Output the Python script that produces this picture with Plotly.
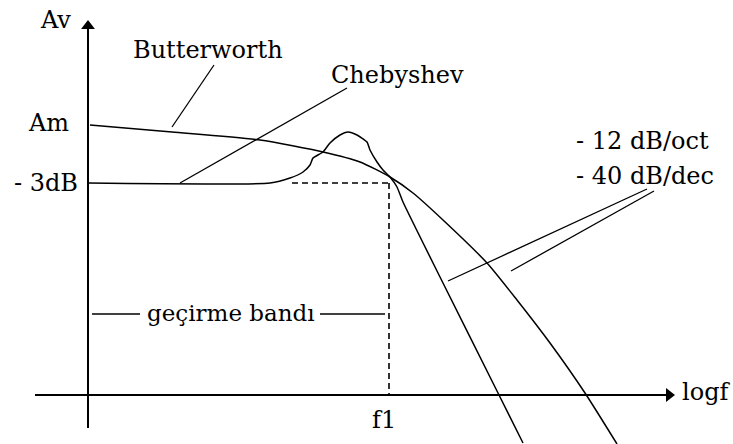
import plotly.graph_objects as go

# ---- data (x: log f units from the Av axis, y: gain units above the log f axis) ----
cheb_x = [0, 182, 202, 215, 222, 225, 235, 242, 252, 260, 269, 279, 282, 289, 295, 302, 309, 315, 352, 410, 435]
cheb_y = [212, 212, 217, 223, 230, 237, 243, 252, 260, 263, 260, 253, 245, 233, 225, 218, 208, 193, 118, 2, -48]

butter_x = [2, 84, 172, 235, 272, 302, 325, 355, 399, 429, 462, 497, 529]
butter_y = [270, 263, 255, 243, 233, 218, 202, 175, 132, 95, 52, 2, -49]

f1_x = 301
minus3db_y = 212
dash_h_start = 204

axis_x_range = [-53, 578]
axis_y_range = [-33, 366]

# leader lines (start, end)
leader_butter = [(126, 330), (84, 268)]
leader_cheb = [(259, 307), (92, 212)]
leader_db1 = [(559, 206), (360, 114)]
leader_db2 = [(566, 204), (423, 124)]
band_left = [(4, 81), (52, 81)]
band_right = [(232, 81), (297, 81)]

labels = [
    ("Av", -33, 375),
    ("Am", -40, 272),
    ("- 3dB", -42, 212),
    ("Butterworth", 120, 345),
    ("Chebyshev", 309, 320),
    ("- 12 dB/oct", 554, 254),
    ("- 40 dB/dec", 557, 219),
    ("geçirme bandı", 143, 82),
    ("f1", 296, -25),
    ("logf", 618, 3),
]

FONT = "DejaVu Serif"
fig = go.Figure()

def seg(pts, width=1.4, dash=None):
    fig.add_trace(go.Scatter(
        x=[p[0] for p in pts], y=[p[1] for p in pts], mode="lines",
        line=dict(color="black", width=width, dash=dash),
        hoverinfo="skip", showlegend=False))

# axes
seg([(0, axis_y_range[0]), (0, axis_y_range[1])], width=2)
seg([(axis_x_range[0], 0), (axis_x_range[1], 0)], width=2)
fig.add_trace(go.Scatter(x=[0], y=[axis_y_range[1] + 3], mode="markers",
                         marker=dict(symbol="triangle-up", size=12, color="black"),
                         hoverinfo="skip", showlegend=False))
fig.add_trace(go.Scatter(x=[axis_x_range[1] + 3], y=[0], mode="markers",
                         marker=dict(symbol="triangle-right", size=12, color="black"),
                         hoverinfo="skip", showlegend=False))

# dashed guides
seg([(dash_h_start, minus3db_y), (f1_x, minus3db_y)], width=1.6, dash="6px,4px")
seg([(f1_x, minus3db_y), (f1_x, 0)], width=1.6, dash="6px,4px")

# curves
fig.add_trace(go.Scatter(x=cheb_x, y=cheb_y, mode="lines",
                         line=dict(color="black", width=1.5, shape="spline", smoothing=0.5),
                         hoverinfo="skip", showlegend=False))
fig.add_trace(go.Scatter(x=butter_x, y=butter_y, mode="lines",
                         line=dict(color="black", width=1.5, shape="spline", smoothing=0.6),
                         hoverinfo="skip", showlegend=False))

# leaders
for l in (leader_butter, leader_cheb, leader_db1, leader_db2, band_left, band_right):
    seg(l, width=1.3)

for text, x, y in labels:
    size = 23 if text.startswith("geçirme") else 24
    fig.add_annotation(x=x, y=y, text=text, showarrow=False,
                       font=dict(family=FONT, size=size, color="black"),
                       xanchor="center", yanchor="middle")

fig.update_layout(
    width=733, height=444,
    margin=dict(l=0, r=0, t=0, b=0),
    paper_bgcolor="white", plot_bgcolor="white",
    xaxis=dict(range=[-88, 645], visible=False, fixedrange=True),
    yaxis=dict(range=[-49, 395], visible=False, fixedrange=True),
)
# remove the default 8px page margin so the figure fills the window exactly
fig.write_html("out.html",
               config={"displayModeBar": False},
               post_script="document.body.style.margin='0';document.body.style.overflow='hidden';")
